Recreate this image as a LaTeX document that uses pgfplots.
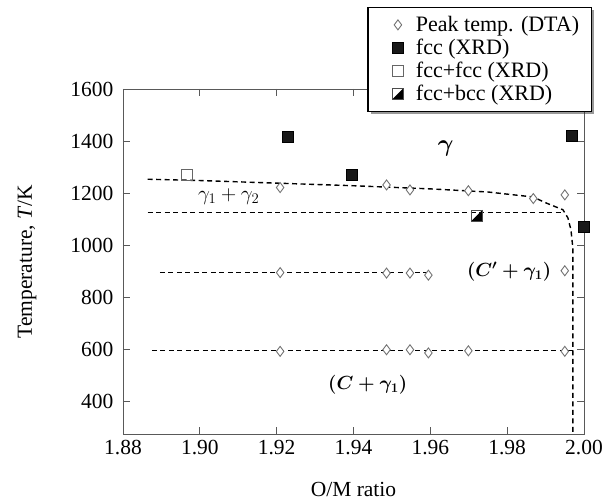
\documentclass[border=0pt]{standalone}
\usepackage{fix-cm}
\usepackage{amsmath,amssymb}
\usepackage{fontspec}
\setmainfont{Liberation Serif}
\usepackage{pgfplots}
\pgfplotsset{compat=1.18}
\usetikzlibrary{shadows}

% square with its lower right half filled
\pgfdeclareplotmark{halfsquare}{%
  \pgfpathmoveto{\pgfqpoint{-\pgfplotmarksize}{-\pgfplotmarksize}}%
  \pgfpathlineto{\pgfqpoint{\pgfplotmarksize}{-\pgfplotmarksize}}%
  \pgfpathlineto{\pgfqpoint{\pgfplotmarksize}{\pgfplotmarksize}}%
  \pgfpathclose
  \pgfusepathqfill
  \pgfpathrectangle{\pgfqpoint{-\pgfplotmarksize}{-\pgfplotmarksize}}{\pgfqpoint{2\pgfplotmarksize}{2\pgfplotmarksize}}%
  \pgfusepathqstroke
}

\pgfplotsset{
  pts/.style={only marks,
    legend image code/.code={%
      \path[draw=none] (0pt,0pt) (36pt,0pt);
      \draw[##1,only marks] plot coordinates {(20pt,0pt)};}},
  bound/.style={forget plot,black,line width=1.4pt,dash pattern=on 5pt off 3.5pt},
}

\begin{document}
\begin{tikzpicture}
\begin{axis}[
  scale only axis,
  width=461pt, height=345pt,
  xmin=1.88, xmax=2.00,
  ymin=277, ymax=1600,
  xtick={1.88,1.90,1.92,1.94,1.96,1.98,2.00},
  ytick={400,600,800,1000,1200,1400,1600},
  tick align=inside,
  major tick length=7pt,
  axis line style={black!65,line width=0.9pt},
  tick style={black!65,line width=0.9pt},
  ticklabel style={font=\fontsize{21.5}{24}\selectfont},
  /pgf/number format/assume math mode=true,
  xticklabel style={yshift=-3pt,/pgf/number format/.cd,fixed,fixed zerofill,precision=2},
  yticklabel style={xshift=-6pt,/pgf/number format/1000 sep={}},
  xlabel={O/M ratio},
  ylabel={Temperature, \textit{T}/K},
  label style={font=\fontsize{21.5}{24}\selectfont},
  xlabel style={at={(axis description cs:0.5,-0.162)},anchor=center},
  ylabel style={at={(axis description cs:-0.208,0.5)},anchor=center},
  legend style={at={(0.530,1.238)},anchor=north west,
    draw=black,line width=1.2pt,fill=white,
    drop shadow={shadow xshift=3pt,shadow yshift=-3pt,fill=black!80},
    font=\fontsize{22}{24}\selectfont,
    inner xsep=10pt,inner ysep=7pt,row sep=2pt},
  legend cell align=left,
  clip=false,
]
% phase boundaries
\addplot[bound] coordinates {
  (1.8864,1254) (1.90,1249) (1.92,1239) (1.94,1229) (1.96,1217) (1.975,1205)
  (1.9867,1186) (1.9903,1162) (1.9945,1137) (1.9958,1106) (1.9966,1060)
  (1.9971,990) (1.9971,277)};
\addplot[bound] coordinates {(1.8864,1126) (1.9945,1126)};
\addplot[bound] coordinates {(1.8896,897) (1.9600,897)};
\addplot[bound] coordinates {(1.8875,598) (1.9971,598)};

% Peak temp. (DTA)
\addplot[pts,mark=diamond*,mark size=5pt,
  mark options={draw=black!55,fill=white,line width=0.9pt}] coordinates {
  (1.9209,1222) (1.9486,1232) (1.9547,1213) (1.9699,1210) (1.9868,1180) (1.9950,1194)
  (1.9209,896) (1.9486,894) (1.9547,894) (1.9595,886) (1.9950,903)
  (1.9209,594) (1.9486,600) (1.9547,600) (1.9595,588) (1.9699,596) (1.9950,594)};
\addlegendentry{Peak temp. (DTA)}
% fcc (XRD)
\addplot[pts,mark=square*,mark size=5.5pt,
  mark options={draw=black,fill=black!90,line width=0.6pt}] coordinates {
  (1.9228,1418) (1.9395,1271) (1.9968,1420) (2.0000,1071)};
\addlegendentry{fcc (XRD)}
% fcc+fcc (XRD)
\addplot[pts,mark=square,mark size=5.5pt,
  mark options={draw=black!60,line width=0.9pt}] coordinates {
  (1.8966,1271)};
\addlegendentry{fcc+fcc (XRD)}
% fcc+bcc (XRD)
\addplot[pts,mark=halfsquare,mark size=5.5pt,
  mark options={draw=black!70,fill=black,line width=0.9pt}] coordinates {
  (1.9721,1115)};
\addlegendentry{fcc+bcc (XRD)}

\node[font=\fontsize{24}{26}\selectfont] at (axis cs:1.964,1372) {$\boldsymbol{\gamma}$};
\node[font=\fontsize{21}{24}\selectfont] at (axis cs:1.9075,1186) {$\gamma_1+\gamma_2$};
\node[font=\fontsize{19}{22}\selectfont] at (axis cs:1.9805,900) {$\boldsymbol{(C'+\gamma_1)}$};
\node[font=\fontsize{19}{22}\selectfont] at (axis cs:1.9437,466) {$\boldsymbol{(C+\gamma_1)}$};

\coordinate (O) at (rel axis cs:0,0);
\end{axis}
\path (O) ++(-123pt,-69pt) rectangle ++(612pt,503pt);
\end{tikzpicture}
\end{document}
